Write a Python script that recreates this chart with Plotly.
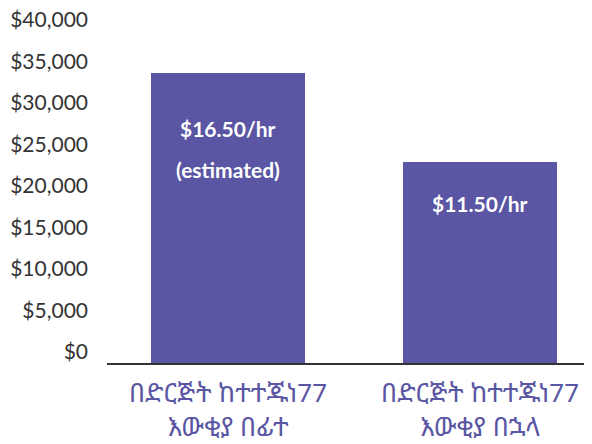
import plotly.graph_objects as go

categories = ["በድርጅት ከተተጁነ77<br>እውቂያ በፊተ", "በድርጅት ከተተጁነ77<br>እውቂያ በኋላ"]
annual_wages = [35000, 24200]
bar_labels = [["$16.50/hr", "(estimated)"], ["$11.50/hr"]]
tick_vals = [0, 5000, 10000, 15000, 20000, 25000, 30000, 35000, 40000]
tick_text = ["$0", "$5,000", "$10,000", "$15,000", "$20,000", "$25,000", "$30,000", "$35,000", "$40,000"]

purple = "#5A56A3"

fig = go.Figure()
fig.add_trace(go.Bar(
    x=[0, 1], y=annual_wages, width=0.61,
    marker=dict(color=purple, line=dict(width=0)),
    hoverinfo="skip",
))

# label line offsets below bar tops (pixels)
offsets = [[-56, -97], [-41]]
for i, (v, lines) in enumerate(zip(annual_wages, bar_labels)):
    for line, off in zip(lines, offsets[i]):
        fig.add_annotation(
            x=i, y=v, xref="x", yref="y", text=line, showarrow=False,
            yanchor="middle", yshift=off,
            font=dict(family="Lato, Open Sans, sans-serif", size=21, color="white", weight="bold"),
        )

# the page body adds an 8px offset, so the figure is 8px smaller
fig.update_layout(
    width=584, height=436,
    margin=dict(l=99, r=0, t=23, b=81, autoexpand=False),
    plot_bgcolor="white", paper_bgcolor="white",
    showlegend=False,
    bargap=0,
    font=dict(family="Lato, Open Sans, sans-serif"),
)
fig.update_xaxes(
    range=[-0.48, 1.444], automargin=False,
    tickvals=[0, 1], ticktext=categories,
    tickfont=dict(family="Noto Sans Ethiopic, Abyssinica SIL, Noto Sans, DejaVu Sans, sans-serif", size=26, color=purple),
    showline=True, linecolor="#333333", linewidth=1.5,
    showgrid=False, zeroline=False, ticks="", fixedrange=True,
    ticklabelstandoff=6, ticklabeloverflow="allow",
)
fig.update_yaxes(
    range=[0, 40000], automargin=False,
    tickvals=tick_vals, ticktext=tick_text,
    tickfont=dict(family="Lato, Open Sans, sans-serif", size=21, color="#333333"),
    showgrid=False, zeroline=False, showline=False, ticks="",
    ticklabelshift=-11, ticklabelstandoff=18, ticklabeloverflow="allow",
)

fig.write_html("out.html")
